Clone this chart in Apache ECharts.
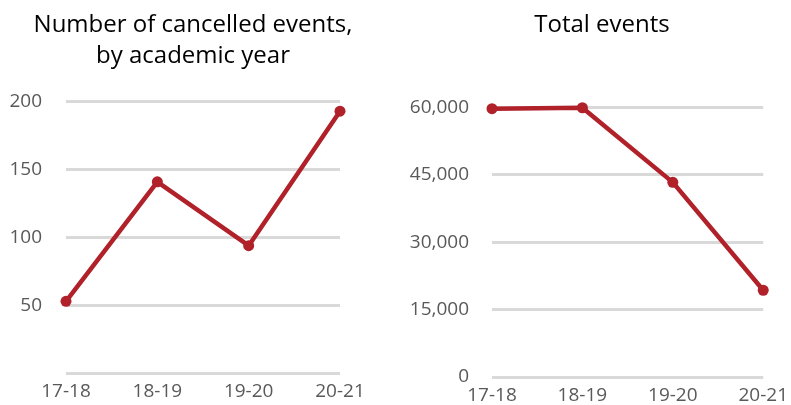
<!DOCTYPE html>
<html>
<head>
<meta charset="utf-8">
<script src="https://cdn.jsdelivr.net/npm/echarts@6/dist/echarts.min.js"></script>
<style>
html,body{margin:0;padding:0;background:#fff;}
#c{width:791px;height:405px;}
</style>
</head>
<body>
<div id="c"></div>
<script>
const categories = ['17-18', '18-19', '19-20', '20-21'];
const cancelledEvents = [53, 141, 94, 193];
const totalEvents = [59700, 59900, 43300, 19300];
const leftTicks = [0, 50, 100, 150, 200];
const rightTicks = [0, 15000, 30000, 45000, 60000];

const FONT = '"Open Sans", sans-serif';
const RED = '#b0212a';
const chart = echarts.init(document.getElementById('c'), null, {renderer: 'canvas'});

function fmt(v) {
  return String(v).replace(/\B(?=(\d{3})+(?!\d))/g, ',');
}

const axisLabelStyle = {color: '#595959', fontSize: 19, fontFamily: FONT};

chart.setOption({
  animation: false,
  title: [
    {text: 'Number of cancelled events,\nby academic year', left: 188, top: 5, textAlign: 'center',
     textStyle: {fontSize: 24, fontWeight: 'normal', color: '#000', fontFamily: FONT, lineHeight: 31, align: 'center'}},
    {text: 'Total events', left: 597, top: 5, textAlign: 'center',
     textStyle: {fontSize: 24, fontWeight: 'normal', color: '#000', fontFamily: FONT, lineHeight: 31}}
  ],
  grid: [
    {left: 66, top: 101.7, width: 274, height: 271.6},
    {left: 492, top: 107.3, width: 274, height: 270.4}
  ],
  xAxis: [
    {type: 'category', gridIndex: 0, data: categories, boundaryGap: false,
     axisLine: {show: false}, axisTick: {show: false},
     axisLabel: Object.assign({margin: 9}, axisLabelStyle)},
    {type: 'category', gridIndex: 1, data: categories, boundaryGap: false,
     axisLine: {show: false}, axisTick: {show: false},
     axisLabel: Object.assign({margin: 9}, axisLabelStyle)}
  ],
  yAxis: [
    {type: 'value', gridIndex: 0, min: leftTicks[0], max: leftTicks[leftTicks.length - 1], interval: leftTicks[1] - leftTicks[0],
     axisLine: {show: false}, axisTick: {show: false},
     axisLabel: Object.assign({margin: 24, showMinLabel: false}, axisLabelStyle),
     splitLine: {lineStyle: {color: '#d9d9d9', width: 3}}},
    {type: 'value', gridIndex: 1, min: rightTicks[0], max: rightTicks[rightTicks.length - 1], interval: rightTicks[1] - rightTicks[0],
     axisLine: {show: false}, axisTick: {show: false},
     axisLabel: Object.assign({margin: 23, formatter: fmt}, axisLabelStyle),
     splitLine: {lineStyle: {color: '#d9d9d9', width: 3}}}
  ],
  series: [
    {type: 'line', xAxisIndex: 0, yAxisIndex: 0, data: cancelledEvents,
     symbol: 'circle', symbolSize: 11, lineStyle: {color: RED, width: 4.5}, itemStyle: {color: RED}},
    {type: 'line', xAxisIndex: 1, yAxisIndex: 1, data: totalEvents,
     symbol: 'circle', symbolSize: 11, lineStyle: {color: RED, width: 4.5}, itemStyle: {color: RED}}
  ]
});
</script>
</body>
</html>
